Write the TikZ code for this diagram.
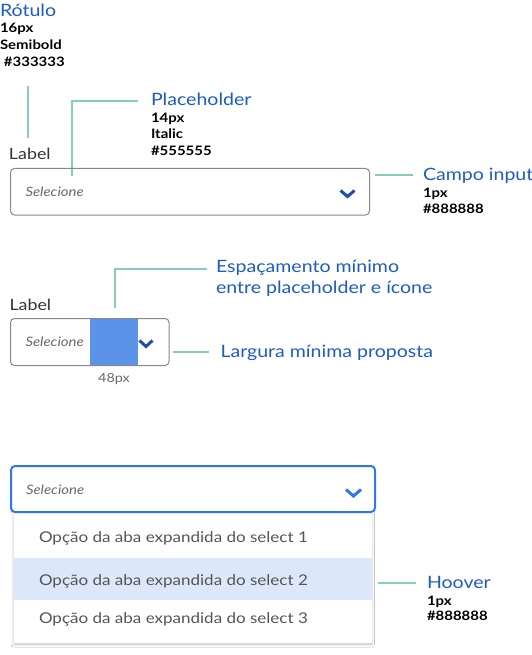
\documentclass[tikz,border=0pt]{standalone}
\usepackage{fontspec}
\setmainfont{Lato}[FakeStretch=1.15]
\usetikzlibrary{shadows.blur}
\definecolor{bluetext}{HTML}{1F5BC6}
\definecolor{tealline}{HTML}{86CCBF}
\definecolor{chevdark}{HTML}{1D4FA8}
\definecolor{focusblue}{HTML}{2F78E6}
\definecolor{boxgray}{HTML}{888888}
\definecolor{fillblue}{HTML}{5B93E8}
\definecolor{hoverbg}{HTML}{DCE8F9}
\definecolor{opttext}{HTML}{555555}
\definecolor{labeltext}{HTML}{333333}
\definecolor{phtext}{HTML}{6A6A6A}
\tikzset{
  txt/.style={anchor=base west, inner sep=0pt, outer sep=0pt},
  title/.style={txt, text=bluetext, font=\fontsize{17}{20}\selectfont},
  spec/.style={txt, text=black, font=\bfseries\fontsize{13}{15}\selectfont},
  lbl/.style={txt, text=labeltext, font=\fontsize{15.5}{18}\selectfont},
  ph/.style={txt, text=phtext, font=\itshape\fontsize{13}{15}\selectfont},
  opt/.style={txt, text=opttext, font=\fontsize{14.8}{18}\selectfont},
  conn/.style={draw=tealline, line width=1.2pt},
  field/.style={draw=boxgray, line width=1pt, rounded corners=4pt},
  chev/.style={line width=3pt, line join=miter, line cap=butt},
}
\begin{document}
\begin{tikzpicture}[x=1pt,y=-1pt]
\useasboundingbox (0,0) rectangle (532,655);
\fill[white] (0,0) rectangle (532,655);

% ---------- Section 1 ----------
\node[title] (rotulo) at (0,17) {Rótulo};
\node[spec] (r1) at (0,33) {16px};
\node[spec] (r2) at (0,49.5) {Semibold};
\node[spec] (r3) at (4,66.5) {\#333333};
\coordinate (rA) at (28,86);
\coordinate (rB) at (28,138);
\draw[conn] (rA) -- (rB);

\node[lbl] (label1) at (9,160) {Label};

\node[title] (placeholder) at (151,106) {Placeholder};
\node[spec] (p1) at (151,123) {14px};
\node[spec] (p2) at (151,138.5) {Italic};
\node[spec] (p3) at (151,156) {\#555555};
\coordinate (pA) at (72,176);
\coordinate (pB) at (72,101);
\coordinate (pC) at (138,101);
\draw[conn] (pA) -- (pB) -- (pC);

\draw[field] (10.5,168.5) rectangle (369.5,215) node[midway] (field1) {};
\node[ph] (sel1) at (25.5,196) {Selecione};
\coordinate (c1a) at (340.5,190.5);
\coordinate (c1b) at (347.5,196.5);
\coordinate (c1c) at (354.5,190.5);
\draw[chev, draw=chevdark] (c1a) -- (c1b) -- (c1c);

\coordinate (cA) at (375,175);
\coordinate (cB) at (413,175);
\draw[conn] (cA) -- (cB);
\node[title] (campo) at (423,180) {Campo input};
\node[spec] (ci1) at (423,197) {1px};
\node[spec] (ci2) at (423,213) {\#888888};

% ---------- Section 2 ----------
\node[title] (esp1) at (216,272.5) {Espaçamento mínimo};
\node[title] (esp2) at (216,293) {entre placeholder e ícone};
\coordinate (eA) at (115,308);
\coordinate (eB) at (115,269);
\coordinate (eC) at (207,269);
\draw[conn] (eA) -- (eB) -- (eC);

\node[lbl] (label2) at (9.5,310) {Label};
\fill[fillblue] (90,318.5) rectangle (138,365.5);
\draw[field] (10.5,318.5) rectangle (169,365.5) node[midway] (field2) {};
\node[ph] (sel2) at (25.5,346.5) {Selecione};
\coordinate (c2a) at (139.5,340.5);
\coordinate (c2b) at (146,346.5);
\coordinate (c2c) at (152.5,340.5);
\draw[chev, draw=chevdark] (c2a) -- (c2b) -- (c2c);
\node[txt, text=phtext, font=\fontsize{12.5}{15}\selectfont, anchor=base] (w48) at (114,382) {48px};

\coordinate (lA) at (173,352);
\coordinate (lB) at (209,352);
\draw[conn] (lA) -- (lB);
\node[title] (largura) at (220.5,357) {Largura mínima proposta};

% ---------- Section 3 ----------
\path[fill=white, blur shadow={shadow xshift=0pt, shadow yshift=-1.5pt, shadow blur radius=3pt, shadow blur steps=8, shadow opacity=25}]
  (14,512) rectangle (371.5,642.5);
\fill[white] (14,512) rectangle (371.5,642.5);
\fill[hoverbg] (14,558) rectangle (371.5,599.5);
\node[opt] (o1) at (39,542) {Opção da aba expandida do select 1};
\node[opt] (o2) at (39,585) {Opção da aba expandida do select 2};
\node[opt] (o3) at (39,623.5) {Opção da aba expandida do select 3};

\draw[draw=focusblue, line width=2pt, rounded corners=4pt, fill=white] (11,466) rectangle (375,512) node[midway] (field3) {};
\node[ph] (sel3) at (26,494) {Selecione};
\coordinate (c3a) at (346,489.5);
\coordinate (c3b) at (353.5,496);
\coordinate (c3c) at (361,489.5);
\draw[chev, draw=focusblue] (c3a) -- (c3b) -- (c3c);

\coordinate (hA) at (378,583);
\coordinate (hB) at (416,583);
\draw[conn] (hA) -- (hB);
\node[title] (hoover) at (427,588) {Hoover};
\node[spec] (h1) at (427,605) {1px};
\node[spec] (h2) at (427,620.5) {\#888888};
\end{tikzpicture}
\end{document}
